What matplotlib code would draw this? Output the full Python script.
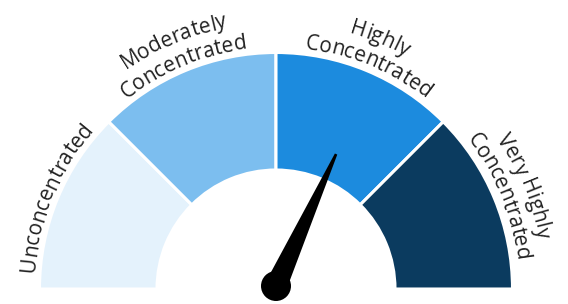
import numpy as np
import matplotlib
matplotlib.use("Agg")
import matplotlib.pyplot as plt
from matplotlib.patches import Wedge, Polygon, Circle
from matplotlib.font_manager import FontProperties

# ---- data ----
categories = ["Unconcentrated", "Moderately\nConcentrated", "Highly\nConcentrated", "Very Highly\nConcentrated"]
bounds = [0, 25, 50, 75, 100]
colors = ["#E4F2FC", "#7CBEEF", "#1C8BDE", "#0B3B5F"]
needle_value = 63.6

# ---- layout (pixels) ----
W, H = 568, 304
cx, cy = 276, 304 - 289
r_out, r_in = 236.5, 119
r_txt_in, r_txt_out = 242, 266

fig = plt.figure(figsize=(W / 100, H / 100), dpi=100)
ax = fig.add_axes([0, 0, 1, 1])
ax.set_xlim(0, W)
ax.set_ylim(0, H)
ax.set_aspect("equal")
ax.axis("off")

def val2ang(v):
    return 180.0 - (v - bounds[0]) / (bounds[-1] - bounds[0]) * 180.0

for i, c in enumerate(colors):
    a1 = val2ang(bounds[i + 1])
    a2 = val2ang(bounds[i])
    ax.add_patch(Wedge((cx, cy), r_out, a1, a2, width=r_out - r_in,
                       facecolor=c, edgecolor="white", linewidth=2.2))

# ---- curved labels ----
fp = FontProperties(family="Open Sans", size=15)
fig.canvas.draw()
renderer = fig.canvas.get_renderer()

def tw(s):
    w, h, d = renderer.get_text_width_height_descent(s, fp, ismath=False)
    return w

def curved(text, theta_c, radius):
    ref = tw("|")
    total = tw(text + "|") - ref
    for i, ch in enumerate(text):
        w0 = tw(text[:i] + "|") - ref
        w1 = tw(text[:i + 1] + "|") - ref
        s = (w0 + w1) / 2 - total / 2
        phi = np.radians(theta_c) - s / radius
        x = cx + radius * np.cos(phi)
        y = cy + radius * np.sin(phi)
        ax.text(x, y, ch, fontproperties=fp, color="#222222",
                ha="center", va="baseline",
                rotation=np.degrees(phi) - 90, rotation_mode="anchor")

for i, lab in enumerate(categories):
    mid = val2ang((bounds[i] + bounds[i + 1]) / 2)
    lines = lab.split("\n")
    if len(lines) == 1:
        curved(lines[0], mid, r_txt_in)
    else:
        curved(lines[0], mid, r_txt_out)
        curved(lines[1], mid, r_txt_in)

# ---- needle ----
ang = np.radians(val2ang(needle_value))
L = 145
d = np.array([np.cos(ang), np.sin(ang)])
n = np.array([-d[1], d[0]])
p0 = np.array([cx, cy + 3])
hb, ht = 11, 1.3
pts = [p0 + n * hb, p0 + d * L + n * ht, p0 + d * L - n * ht, p0 - n * hb]
ax.add_patch(Polygon(pts, closed=True, facecolor="black", edgecolor="none"))
ax.add_patch(Circle(p0, 15, facecolor="black", edgecolor="none"))

fig.savefig("out.png", dpi=100)
